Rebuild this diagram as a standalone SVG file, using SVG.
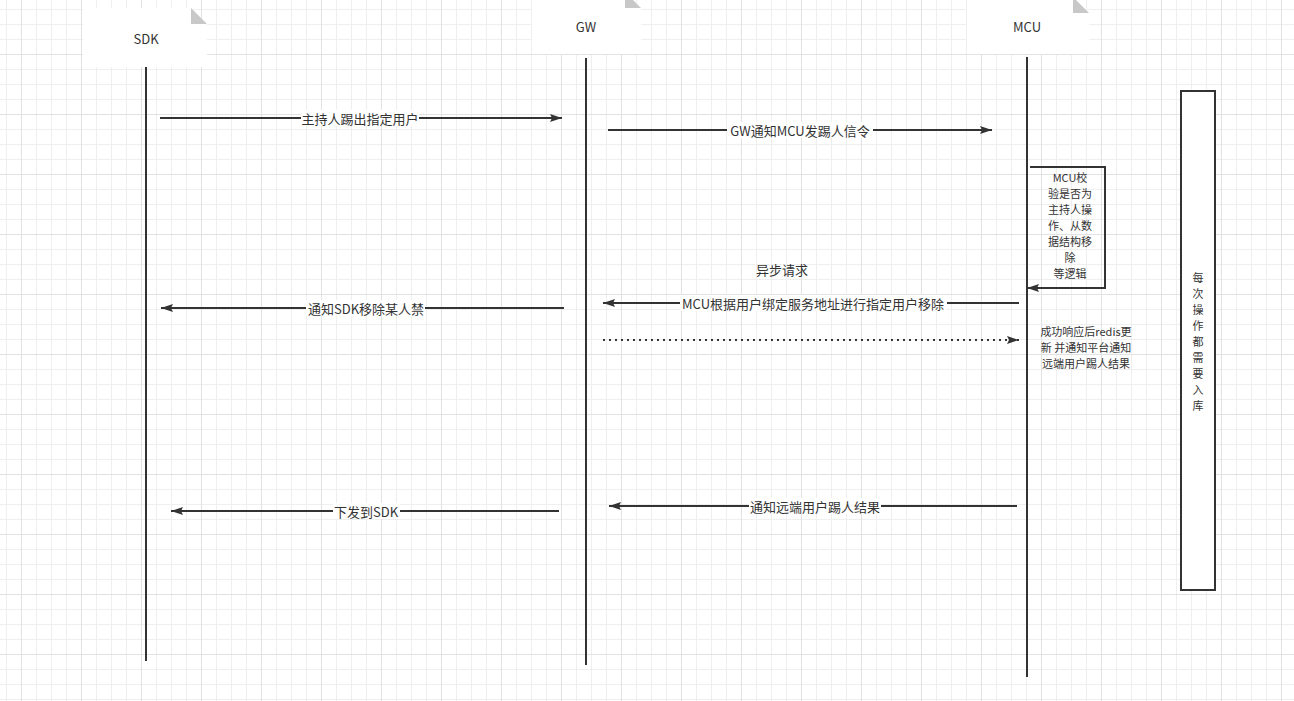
<svg xmlns="http://www.w3.org/2000/svg" width="1294" height="701" viewBox="0 0 1294 701">
  <defs>
    <pattern id="grid" x="21" y="54" width="60" height="60" patternUnits="userSpaceOnUse">
      <path d="M15.5 0V60M30.5 0V60M45.5 0V60M0 15.5H60M0 30.5H60M0 45.5H60" stroke="#efefef" stroke-width="1" fill="none"/>
      <path d="M0.5 0V60M0 0.5H60" stroke="#e2e2e2" stroke-width="1" fill="none"/>
    </pattern>
    <marker id="arrow" viewBox="0 0 12 8" refX="12" refY="4" markerWidth="12" markerHeight="8" markerUnits="userSpaceOnUse" orient="auto">
      <path d="M0 0L12 4L0 8L2 4Z" fill="#333"/>
    </marker>
    <style>
      .t { font-family: "Noto Sans CJK SC", "Liberation Sans", sans-serif; font-size: 13px; fill: #333; text-anchor: middle; dominant-baseline: central; }
      .w { font-family: "Noto Sans CJK SC", "Liberation Sans", sans-serif; font-size: 11px; fill: #333; text-anchor: middle; dominant-baseline: central; }
      .head { font-family: "Noto Sans CJK SC", "Liberation Sans", sans-serif; font-size: 13px; fill: #333; text-anchor: middle; dominant-baseline: central; }
      .line { stroke: #333; stroke-width: 2; fill: none; }
      .msg { stroke: #333; stroke-width: 2; fill: none; marker-end: url(#arrow); }
      .dot { stroke: #333; stroke-width: 2; fill: none; stroke-dasharray: 2 4; marker-end: url(#arrow); }
      .note { fill: #ffffff; stroke: none; }
      .fold { fill: #c8c8c8; stroke: none; }
      .bg { fill: #ffffff; }
    </style>
  </defs>

  <rect width="1294" height="701" fill="#ffffff"/>
  <rect width="1294" height="701" fill="url(#grid)"/>

  <!-- participants -->
  <g id="sdk">
    <path class="note" d="M83 8H191L207 24V67H83Z"/>
    <path class="fold" d="M191 8V24H207Z"/>
    <text class="head" x="146" y="38">SDK</text>
    <line class="line" x1="146" y1="67" x2="146" y2="661"/>
  </g>
  <g id="gw">
    <path class="note" d="M532 -8H625L641 8V54H532Z"/>
    <path class="fold" d="M625 -8V8H641Z"/>
    <text class="head" x="586" y="26">GW</text>
    <line class="line" x1="586" y1="58" x2="586" y2="665"/>
  </g>
  <g id="mcu">
    <path class="note" d="M967 -3H1073L1089 13V54H967Z"/>
    <path class="fold" d="M1073 -3V13H1089Z"/>
    <text class="head" x="1027" y="26">MCU</text>
    <line class="line" x1="1027" y1="57" x2="1027" y2="677"/>
  </g>

  <!-- storage note -->
  <g id="db-note">
    <rect x="1181" y="91" width="34" height="499" fill="#ffffff" stroke="#333" stroke-width="2"/>
    <text class="w" x="1198" y="277"><tspan x="1198">每</tspan><tspan x="1198" dy="16">次</tspan><tspan x="1198" dy="16">操</tspan><tspan x="1198" dy="16">作</tspan><tspan x="1198" dy="16">都</tspan><tspan x="1198" dy="16">需</tspan><tspan x="1198" dy="16">要</tspan><tspan x="1198" dy="16">入</tspan><tspan x="1198" dy="16">库</tspan></text>
  </g>

  <!-- messages -->
  <g id="connectors">
    <line class="msg" x1="160" y1="118" x2="562" y2="118"/>
    <rect class="bg" x="301" y="110" width="118" height="16"/>
    <text class="t" x="360" y="118">主持人踢出指定用户</text>

    <line class="msg" x1="608" y1="130" x2="992" y2="130"/>
    <rect class="bg" x="727" y="122" width="146" height="16"/>
    <text class="t" x="800" y="130">GW通知MCU发踢人信令</text>

    <path class="msg" d="M1030 167H1105V288H1027"/>
    <text class="w" x="1070" y="177"><tspan x="1070">MCU校</tspan><tspan x="1070" dy="16">验是否为</tspan><tspan x="1070" dy="16">主持人操</tspan><tspan x="1070" dy="16">作、从数</tspan><tspan x="1070" dy="16">据结构移</tspan><tspan x="1070" dy="16">除</tspan><tspan x="1070" dy="16">等逻辑</tspan></text>

    <text class="t" x="782" y="269">异步请求</text>

    <line class="msg" x1="1019" y1="303" x2="603" y2="303"/>
    <rect class="bg" x="680" y="295" width="267" height="16"/>
    <text class="t" x="813" y="303">MCU根据用户绑定服务地址进行指定用户移除</text>

    <line class="msg" x1="564" y1="308" x2="161" y2="308"/>
    <rect class="bg" x="306" y="300" width="119" height="16"/>
    <text class="t" x="366" y="308">通知SDK移除某人禁</text>

    <line class="dot" x1="603" y1="340" x2="1019" y2="340"/>
    <text class="w" x="1086" y="331"><tspan x="1086">成功响应后redis更</tspan><tspan x="1086" dy="16">新 并通知平台通知</tspan><tspan x="1086" dy="16">远端用户踢人结果</tspan></text>

    <line class="msg" x1="1017" y1="506" x2="609" y2="506"/>
    <rect class="bg" x="749" y="498" width="132" height="16"/>
    <text class="t" x="815" y="506">通知远端用户踢人结果</text>

    <line class="msg" x1="559" y1="511" x2="171" y2="511"/>
    <rect class="bg" x="333" y="503" width="67" height="16"/>
    <text class="t" x="366" y="511">下发到SDK</text>
  </g>
</svg>
